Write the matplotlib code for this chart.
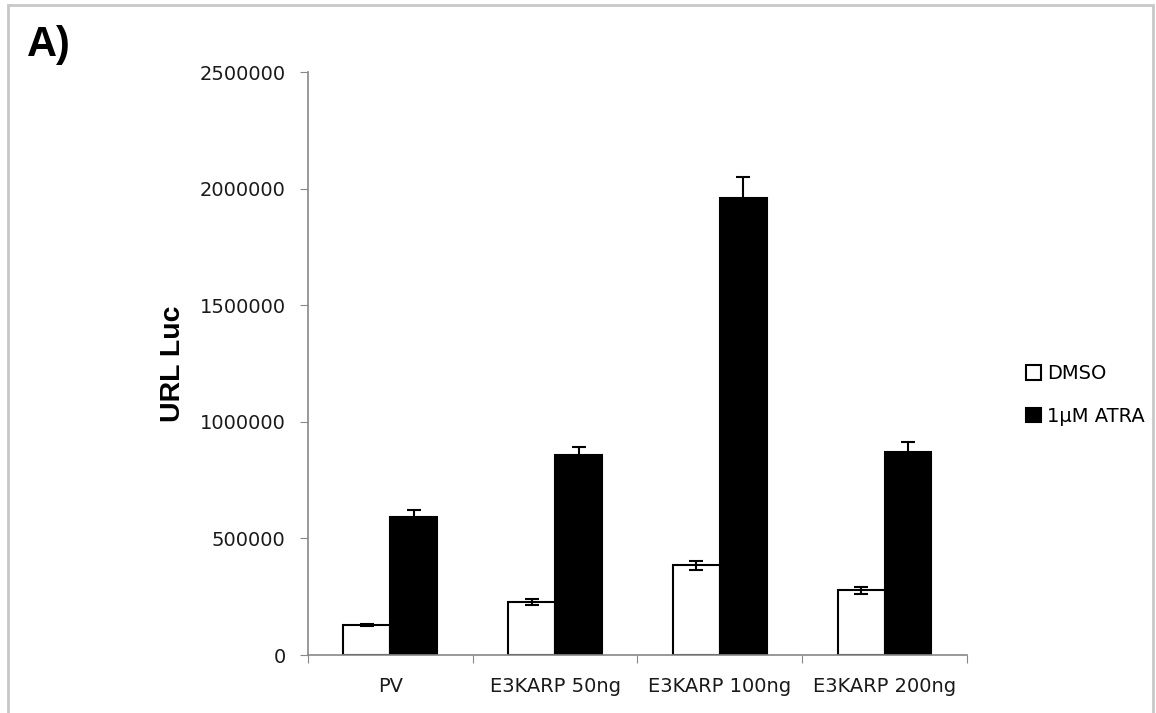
import numpy as np
import matplotlib.pyplot as plt
from matplotlib.patches import Rectangle

groups = ['PV', 'E3KARP 50ng', 'E3KARP 100ng', 'E3KARP 200ng']
dmso = [128000, 226000, 384000, 278000]
dmso_err = [5000, 13000, 19000, 15000]
atra = [591000, 857000, 1958000, 871000]
atra_err = [29000, 37000, 91000, 44000]
yticks = [0, 500000, 1000000, 1500000, 2000000, 2500000]

plt.rcParams['font.family'] = ['DejaVu Sans']

fig = plt.figure(figsize=(11.56, 7.13), dpi=100)
ax = fig.add_axes([0.2664, 0.0813, 0.570, 0.8177])

# light grey frame round the picture
fig.patches.append(Rectangle((0.0065, -0.05), 0.991, 1.043, transform=fig.transFigure,
                             fill=False, edgecolor='#c8c8c8', linewidth=2))

x = np.arange(len(groups)) + 0.5
w = 0.285
ax.bar(x - w/2, dmso, w, color='white', edgecolor='black', linewidth=1.5,
       label='DMSO', zorder=2)
ax.bar(x + w/2, atra, w, color='black', edgecolor='black', linewidth=1.5,
       label='1\u00b5M ATRA', zorder=2)
ax.errorbar(x - w/2, dmso, yerr=dmso_err, fmt='none', ecolor='black',
            elinewidth=1.5, capsize=5, capthick=1.5, zorder=3)
ax.errorbar(x + w/2, atra, yerr=atra_err, fmt='none', ecolor='black',
            elinewidth=1.5, capsize=5, capthick=1.5, zorder=3)

ax.set_xlim(0, len(groups))
ax.set_ylim(0, 2500000)
ax.set_yticks(yticks)
ax.set_yticklabels([str(v) for v in yticks])
ax.set_xticks(np.arange(len(groups) + 1))
ax.set_xticklabels([])
ax.set_xticks(x, minor=True)
ax.set_xticklabels(groups, minor=True)
ax.tick_params(axis='x', which='minor', length=0, pad=16, labelsize=14,
               labelcolor='#1a1a1a')
ax.tick_params(axis='x', which='major', length=6, color='#888888', direction='out')
ax.tick_params(axis='y', length=6, color='#888888', labelsize=14, pad=10,
               labelcolor='#1a1a1a')

for s in ['top', 'right']:
    ax.spines[s].set_visible(False)
for s in ['left', 'bottom']:
    ax.spines[s].set_color('#888888')
    ax.spines[s].set_linewidth(1.2)

ax.set_ylabel('URL Luc', fontsize=20.5, fontweight='bold',
              family=['Liberation Sans', 'DejaVu Sans'], labelpad=10)

fig.text(0.023, 1 - 25/713, 'A)', fontsize=30, fontweight='bold', va='top',
         family=['Liberation Sans', 'DejaVu Sans'])

leg = fig.legend(loc='center left', bbox_to_anchor=(0.8725, 0.446), frameon=False,
                 fontsize=14, handlelength=0.75, handleheight=0.75,
                 handletextpad=0.35, labelspacing=1.2)

fig.savefig('out.png', dpi=100)
